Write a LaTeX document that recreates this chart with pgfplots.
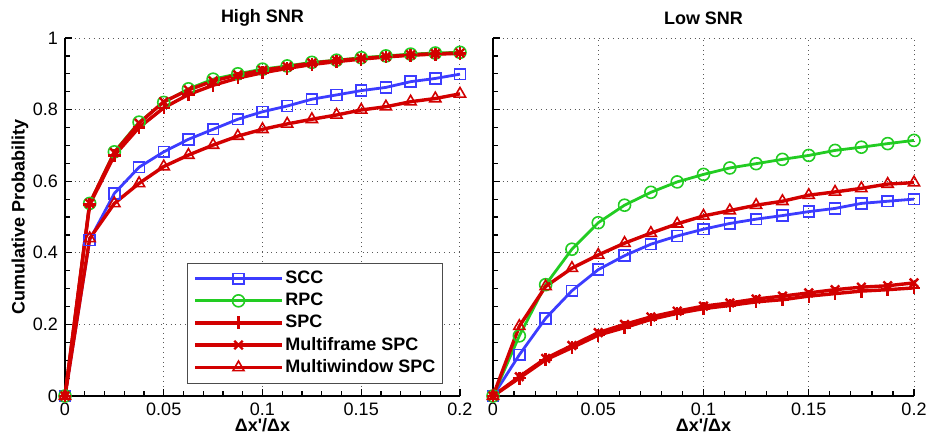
\documentclass[border=0pt]{standalone}
\usepackage{pgfplots}
\pgfplotsset{compat=1.18}
\usepackage{fontspec}
\setmainfont{Liberation Sans}
\definecolor{CBlue}{HTML}{3C3CFF}
\definecolor{CGreen}{HTML}{22CC22}
\definecolor{CRed}{HTML}{D20000}

\pgfplotstableread{
x      scc    rpc    spc    mfr    mwin
0      0      0      0      0      0
0.0125 0.436  0.538  0.535  0.538  0.440
0.025  0.566  0.682  0.672  0.680  0.538
0.0375 0.639  0.765  0.750  0.762  0.594
0.05   0.682  0.820  0.805  0.822  0.641
0.0625 0.717  0.858  0.842  0.855  0.673
0.075  0.745  0.885  0.868  0.880  0.701
0.0875 0.773  0.900  0.888  0.897  0.726
0.1    0.794  0.913  0.903  0.910  0.745
0.1125 0.810  0.922  0.915  0.920  0.760
0.125  0.829  0.932  0.926  0.930  0.773
0.1375 0.841  0.938  0.934  0.937  0.785
0.15   0.853  0.945  0.941  0.943  0.799
0.1625 0.862  0.950  0.947  0.948  0.808
0.175  0.878  0.955  0.952  0.953  0.822
0.1875 0.887  0.958  0.955  0.956  0.831
0.2    0.899  0.960  0.957  0.958  0.844
}\highsnr

\pgfplotstableread{
x      scc    rpc    spc    mfr    mwin
0      0      0      0      0      0
0.0125 0.115  0.168  0.050  0.054  0.195
0.025  0.217  0.311  0.101  0.105  0.306
0.0375 0.294  0.410  0.135  0.141  0.357
0.05   0.353  0.484  0.170  0.177  0.394
0.0625 0.392  0.533  0.191  0.200  0.427
0.075  0.424  0.569  0.214  0.221  0.455
0.0875 0.447  0.598  0.231  0.237  0.481
0.1    0.466  0.619  0.244  0.251  0.503
0.1125 0.482  0.637  0.253  0.260  0.518
0.125  0.494  0.649  0.263  0.271  0.533
0.1375 0.504  0.661  0.269  0.279  0.544
0.15   0.515  0.672  0.279  0.288  0.561
0.1625 0.524  0.686  0.286  0.297  0.570
0.175  0.538  0.695  0.293  0.304  0.580
0.1875 0.544  0.705  0.297  0.308  0.592
0.2    0.550  0.714  0.302  0.316  0.596
}\lowsnr

\pgfplotsset{
  every axis title shift=0pt,
  cdf/.style={
    scale only axis, height=179pt,
    xmin=0, xmax=0.2, ymin=0, ymax=1,
    xtick={0,0.05,0.1,0.15,0.2},
    xticklabels={0,0.05,0.1,0.15,0.2},
    ytick={0,0.2,0.4,0.6,0.8,1},
    minor x tick num=4, minor y tick num=3,
    axis x line*=bottom, axis y line*=left,
    axis line style={-, line width=1pt, black},
    tick align=inside,
    major tick length=3.5pt, minor tick length=2.5pt,
    tick style={black, line width=0.6pt},
    grid=major,
    grid style={dotted, black!65, line width=0.5pt},
    ticklabel style={font=\fontsize{9}{10}\selectfont},
    /pgf/number format/assume math mode=true,
    title style={font=\fontsize{9}{10}\selectfont\bfseries,
      at={(axis description cs:0.5,1.056)}, anchor=center},
    xlabel={Δx\textquotesingle/Δx},
    xlabel style={font=\fontsize{9}{10}\selectfont\bfseries,
      at={(axis description cs:0.5,-0.081)}, anchor=center},
    clip=false,
  },
  sccs/.style={CBlue, line width=1.4pt,
    mark=square, mark size=2.7pt, mark options={line width=0.8pt, solid}},
  rpcs/.style={CGreen, line width=1.4pt,
    mark=o, mark size=3pt, mark options={line width=0.8pt, solid}},
  spcs/.style={CRed, line width=1.7pt,
    mark=+, mark size=3.2pt, mark options={line width=1.2pt, solid}},
  mfrs/.style={CRed, line width=1.7pt,
    mark=x, mark size=3pt, mark options={line width=1.2pt, solid}},
  mwins/.style={CRed, line width=1.7pt,
    mark=triangle, mark size=3.2pt, mark options={line width=0.8pt, solid}},
}

\begin{document}
\begin{tikzpicture}
\useasboundingbox (-32.5pt,-22pt) rectangle (431pt,198pt);
\begin{axis}[cdf, width=197.5pt,
  title={High SNR},
  yticklabels={0,0.2,0.4,0.6,0.8,1},
  ylabel={Cumulative Probability},
  ylabel style={font=\fontsize{9}{10}\selectfont\bfseries,
    at={(axis description cs:-0.114,0.5)}, anchor=center},
  legend style={at={(axis description cs:0.958,0.3715)}, anchor=north east,
    draw=black!70, line width=0.5pt, fill=white,
    font=\fontsize{9}{10}\selectfont\bfseries,
    nodes={inner sep=0.8pt},
    inner xsep=3pt, inner ysep=3pt, row sep=1.6pt,
    /tikz/every even column/.append style={column sep=11.5pt}},
  legend cell align=left,
  legend image code/.code={
    \draw[mark repeat=2, mark phase=2] plot coordinates {(0pt,0pt) (21.75pt,0pt) (43.5pt,0pt)};},
]
\addplot[sccs] table[x=x, y=scc] {\highsnr};
\addplot[rpcs] table[x=x, y=rpc] {\highsnr};
\addplot[spcs] table[x=x, y=spc] {\highsnr};
\addplot[mfrs] table[x=x, y=mfr] {\highsnr};
\addplot[mwins] table[x=x, y=mwin] {\highsnr};
\legend{SCC, RPC, SPC, Multiframe SPC, Multiwindow SPC}
\end{axis}

\begin{axis}[cdf, width=210.5pt, at={(214pt,0pt)},
  title={Low SNR},
  yticklabels={},
]
\addplot[sccs] table[x=x, y=scc] {\lowsnr};
\addplot[rpcs] table[x=x, y=rpc] {\lowsnr};
\addplot[spcs] table[x=x, y=spc] {\lowsnr};
\addplot[mfrs] table[x=x, y=mfr] {\lowsnr};
\addplot[mwins] table[x=x, y=mwin] {\lowsnr};
\end{axis}
\end{tikzpicture}
\end{document}
